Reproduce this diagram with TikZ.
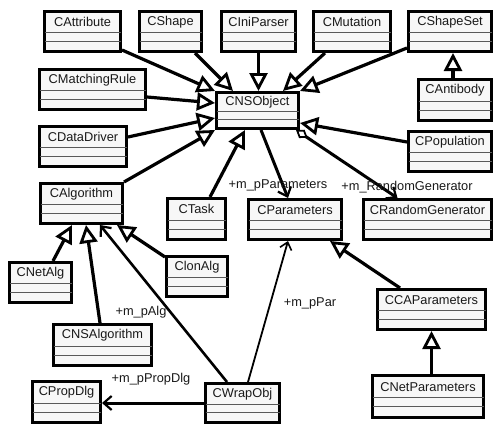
\documentclass[tikz,border=0pt]{standalone}
\usepackage{fontspec}
\setmainfont{Liberation Sans}
\usetikzlibrary{calc,arrows.meta}
\tikzset{
  clsbox/.style={draw=black, line width=3pt, fill=black!3, inner sep=0pt, outer sep=1.5pt, rectangle},
  sepline/.style={draw=black!65, line width=0.9pt, shorten >=1.5pt, shorten <=1.5pt},
  clstext/.style={font=\fontsize{12.8}{15}\selectfont, text=black!90, inner sep=0pt},
  lbl/.style={font=\fontsize{12.8}{15}\selectfont, text=black!90, inner sep=0pt},
  gen/.style={line width=3.2pt, -{Triangle[length=18pt,width=18pt,line width=2.8pt,fill=white]}},
  assoc/.style={line width=3pt, -{Straight Barb[length=8pt,width=14pt,line width=2.2pt]}},
  assocthin/.style={line width=1.8pt, -{Straight Barb[length=7pt,width=12pt,line width=1.6pt]}},
}
\newcommand\umlcls[6]{%
  \node[clsbox, minimum width={(#4-#2-3)*1pt}, minimum height={(#5-#3-3)*1pt}] (#1) at ({(#2+#4)/2},{(#3+#5)/2}) {};
  \draw[sepline] ($(#1.north west)!0.53!(#1.south west)$) -- ($(#1.north east)!0.53!(#1.south east)$);
  \draw[sepline] ($(#1.north west)!0.73!(#1.south west)$) -- ($(#1.north east)!0.73!(#1.south east)$);
  \node[clstext] (#1-t) at ($(#1.north)!0.28!(#1.south)$) {#6};
}
\begin{document}
\begin{tikzpicture}[x=1pt,y=-1pt]
\useasboundingbox[fill=white] (0,0) rectangle (495,423);
\umlcls{CAttribute}{43}{10}{122}{53}{CAttribute}
\umlcls{CShape}{138}{10}{203}{53}{CShape}
\umlcls{CIniParser}{220}{10}{297}{53}{CIniParser}
\umlcls{CMutation}{312}{10}{392}{53}{CMutation}
\umlcls{CShapeSet}{407}{10}{493}{53}{CShapeSet}
\umlcls{CMatchingRule}{38}{68}{147}{111}{CMatchingRule}
\umlcls{CNSObject}{215}{91}{300}{130}{CNSObject}
\umlcls{CAntibody}{417}{78}{493}{122}{CAntibody}
\umlcls{CDataDriver}{38}{125}{128}{168}{CDataDriver}
\umlcls{CPopulation}{407}{130}{493}{173}{CPopulation}
\umlcls{CAlgorithm}{39}{182}{124}{225}{CAlgorithm}
\umlcls{CTask}{166}{197}{227}{241}{CTask}
\umlcls{CParameters}{247}{198}{343}{241}{CParameters}
\umlcls{CRandomGenerator}{362}{198}{493}{241}{CRandomGenerator}
\umlcls{CNetAlg}{8}{261}{73}{304}{CNetAlg}
\umlcls{ClonAlg}{165}{255}{229}{298}{ClonAlg}
\umlcls{CCAParameters}{376}{288}{487}{331}{CCAParameters}
\umlcls{CNSAlgorithm}{52}{323}{153}{367}{CNSAlgorithm}
\umlcls{CPropDlg}{31}{380}{102}{424}{CPropDlg}
\umlcls{CWrapObj}{204}{382}{281}{424}{CWrapObj}
\umlcls{CNetParameters}{371}{374}{485}{419}{CNetParameters}

\coordinate (abs) at ($(CAntibody.north)+(-2,0)$);
\coordinate (abe) at (abs |- CShapeSet.south);
\coordinate (nps) at (CNetParameters.north -| CCAParameters.south);

% generalizations to CNSObject
\draw[gen] ($(CAttribute.south east)+(0,-3)$) -- (CNSObject.north west);
\draw[gen] ($(CShape.south east)+(-8,0)$) -- ($(CNSObject.north west)+(18,0)$);
\draw[gen] (CIniParser.south) -- (CIniParser.south |- CNSObject.north);
\draw[gen] ($(CMutation.south west)+(13,0)$) -- ($(CNSObject.north east)+(-17,0)$);
\draw[gen] ($(CShapeSet.south west)+(0,-5)$) -- (CNSObject.north east);
\draw[gen] ($(CMatchingRule.east)+(0,7.5)$) -- ($(CNSObject.west)+(0,-7.5)$);
\draw[gen] ($(CDataDriver.east)+(0,-9.5)$) -- ($(CNSObject.west)+(0,7.5)$);
\draw[gen] ($(CPopulation.west)+(0,-9.5)$) -- ($(CNSObject.east)+(0,12.5)$);
\draw[gen] (CAlgorithm.north east) -- (CNSObject.south west);
\draw[gen] ($(CTask.north)+(13.5,0)$) -- ($(CNSObject.south west)+(30,0)$);
% other generalizations
\draw[gen] (abs) -- (abe);
\draw[gen] ($(CCAParameters.north west)+(24,0)$) -- ($(CParameters.south east)+(-13,0)$);
\draw[gen] (nps) -- (CCAParameters.south);
\draw[gen] ($(CNetAlg.north)+(12.5,0)$) -- ($(CAlgorithm.south west)+(33,0)$);
\draw[gen] ($(CNSAlgorithm.north)+(-2.5,0)$) -- ($(CAlgorithm.south west)+(47,0)$);
\draw[gen] ($(ClonAlg.north west)+(0,2)$) -- ($(CAlgorithm.south east)+(-7,0)$);

% associations
\draw[assoc] ($(CNSObject.south)+(3.5,0)$) -- ($(CParameters.north)+(-7,0)$);
\draw[line width=3pt, {Diamond[length=14pt,width=10pt,line width=1.8pt,fill=white]}-{Straight Barb[length=8pt,width=14pt,line width=2.2pt]}]
  ($(CNSObject.south east)+(-4,0)$) -- ($(CRandomGenerator.north)+(-30,0)$);
\draw[assoc, line width=2.6pt] ($(CWrapObj.north west)+(23,0)$) -- ($(CAlgorithm.south west)+(61,0)$);
\draw[assocthin] ($(CWrapObj.north west)+(44,0)$) -- ($(CParameters.south west)+(41,0)$);
\draw[assoc] (CWrapObj.west) -- (CWrapObj.west -| CPropDlg.east);

% labels
\node[lbl] (l1) at (278,185) {+m\_pParameters};
\node[lbl] (l2) at (407,187) {+m\_RandomGenerator};
\node[lbl] (l3) at (141,312) {+m\_pAlg};
\node[lbl] (l4) at (151,379) {+m\_pPropDlg};
\node[lbl] (l5) at (310,303) {+m\_pPar};
\end{tikzpicture}
\end{document}
